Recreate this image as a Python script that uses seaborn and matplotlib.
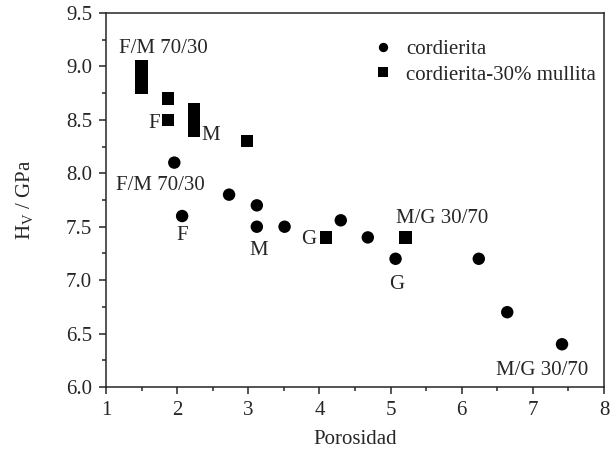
import numpy as np
import pandas as pd
import matplotlib
matplotlib.use('Agg')
import matplotlib.pyplot as plt
from matplotlib.ticker import MultipleLocator, FormatStrFormatter
import seaborn as sns

# cordierita (circles)
por_cord = [1.96, 2.07, 2.73, 3.12, 3.12, 3.51, 4.30, 4.68, 5.07, 6.24, 6.64, 7.41]
hv_cord = [8.10, 7.60, 7.80, 7.70, 7.50, 7.50, 7.56, 7.40, 7.20, 7.20, 6.70, 6.40]

# cordierita-30% mullita (squares)
por_mull = [1.50, 1.50, 1.50, 1.87, 1.87, 2.24, 2.24, 2.24, 2.98, 4.09, 5.21]
hv_mull = [9.00, 8.90, 8.80, 8.70, 8.50, 8.60, 8.50, 8.40, 8.30, 7.40, 7.40]

series_names = ['cordierita', 'cordierita-30% mullita']

# point labels: (text, series, index, dx pt, dy pt, ha)
point_labels = [
    ('F/M 70/30', 1, 0, 16, 10, 'center'),
    ('F', 1, 4, -6, -5.6, 'right'),
    ('M', 1, 7, 5, -6.8, 'left'),
    ('G', 1, 9, -6.7, -4.5, 'right'),
    ('M/G 30/70', 1, 10, -6.7, 10.2, 'left'),
    ('F/M 70/30', 0, 0, -10, -20, 'center'),
    ('F', 0, 1, 0, -17.5, 'center'),
    ('M', 0, 4, 1, -20.4, 'center'),
    ('G', 0, 8, 1, -22, 'center'),
    ('M/G 30/70', 0, 11, -14, -22, 'center'),
]

df = pd.DataFrame({
    'Porosidad': por_cord + por_mull,
    'Hv': hv_cord + hv_mull,
    'serie': [series_names[0]] * len(por_cord) + [series_names[1]] * len(por_mull),
})

sns.set_style('ticks')
plt.rcParams['font.family'] = ['Liberation Serif', 'DejaVu Serif']
plt.rcParams['mathtext.fontset'] = 'custom'
plt.rcParams['mathtext.rm'] = 'Liberation Serif'
plt.rcParams['mathtext.it'] = 'Liberation Serif:italic'

fig = plt.figure(figsize=(6.16, 4.57), dpi=100)
ax = fig.add_axes([106 / 616, 1 - 387 / 457, 498 / 616, 374 / 457])

sns.scatterplot(data=df, x='Porosidad', y='Hv', style='serie',
                markers={series_names[0]: 'o', series_names[1]: 's'},
                color='black', s=80, linewidth=0, ax=ax)

xs = [por_cord, por_mull]
ys = [hv_cord, hv_mull]
for txt, s, i, dx, dy, ha in point_labels:
    ax.annotate(txt, xy=(xs[s][i], ys[s][i]), xytext=(dx, dy),
                textcoords='offset points', ha=ha, va='baseline', fontsize=15)

ax.set_xlim(1, 8)
ax.set_ylim(6.0, 9.5)
ax.xaxis.set_major_locator(MultipleLocator(1))
ax.xaxis.set_minor_locator(MultipleLocator(0.5))
ax.yaxis.set_major_locator(MultipleLocator(0.5))
ax.yaxis.set_minor_locator(MultipleLocator(0.25))
ax.yaxis.set_major_formatter(FormatStrFormatter('%.1f'))
ax.tick_params(which='major', direction='out', length=5, width=1.1, labelsize=15, pad=5)
ax.tick_params(which='minor', direction='out', length=3, width=1.1)
for sp in ax.spines.values():
    sp.set_linewidth(1.1)

ax.set_xlabel('Porosidad', fontsize=15, labelpad=7)
ax.set_ylabel(r'H$_\mathrm{V}$ / GPa', fontsize=15, labelpad=22)

sns.move_legend(ax, 'upper right', bbox_to_anchor=(1.0, 0.952), frameon=False,
                title=None, fontsize=15, markerscale=0.75, handlelength=1.0,
                handletextpad=0.6, labelspacing=0.3, borderaxespad=0.0)

fig.savefig('out.png', dpi=100)
